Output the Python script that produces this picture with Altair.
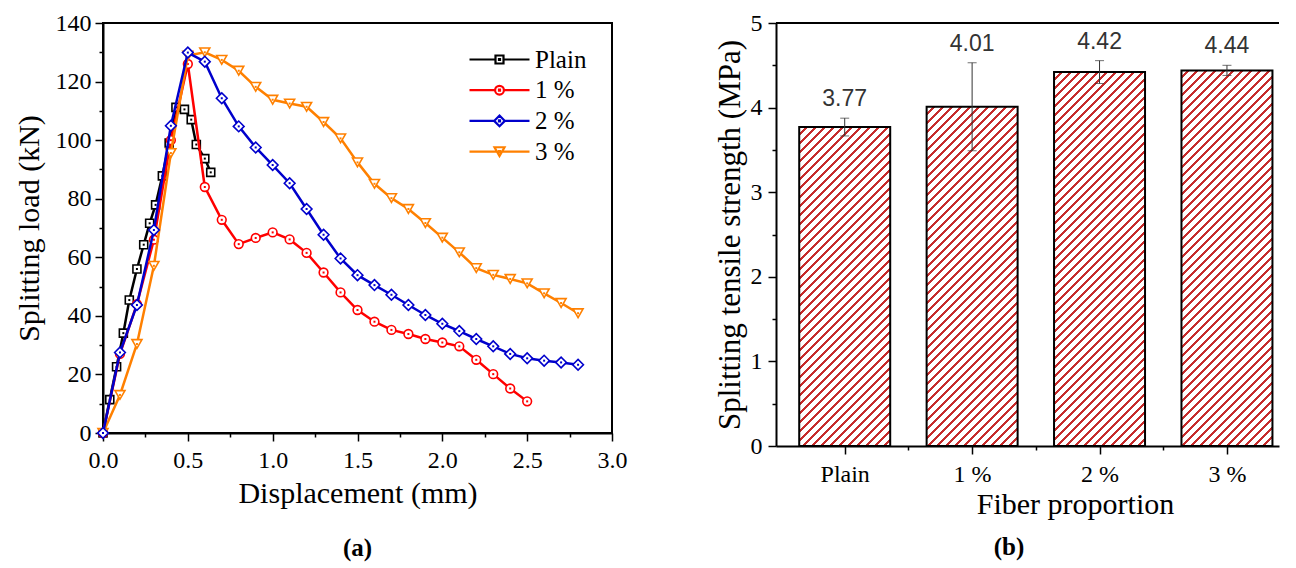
import json
import altair as alt
import pandas as pd

# ---------------- data ----------------
series = ["Plain", "1 %", "2 %", "3 %"]
series_colors = ["#000000", "#ff0000", "#0000cc", "#ff8000"]

plain_x = [0, 0.04, 0.08, 0.12, 0.155, 0.2, 0.24, 0.275, 0.31, 0.35, 0.39, 0.43, 0.48, 0.52, 0.55, 0.6, 0.635]
plain_y = [0, 11.4, 22.6, 34.1, 45.4, 56.0, 64.3, 71.6, 77.9, 87.8, 99.0, 111.2, 110.5, 107.0, 98.5, 93.7, 89.0]

p1_x = [0, 0.1, 0.2, 0.3, 0.4, 0.5, 0.6, 0.7, 0.8, 0.9, 1.0, 1.1, 1.2, 1.3, 1.4, 1.5, 1.6, 1.7, 1.8, 1.9,
        2.0, 2.1, 2.2, 2.3, 2.4, 2.5]
p1_y = [0, 27.0, 44.0, 66.0, 100.0, 126.0, 84.0, 72.8, 64.5, 66.6, 68.5, 66.1, 61.5, 54.8, 48.0, 42.0, 38.0,
        35.2, 33.8, 32.1, 30.9, 29.6, 25.0, 20.1, 15.2, 10.8]

p2_x = [0, 0.1, 0.2, 0.3, 0.4, 0.5, 0.6, 0.7, 0.8, 0.9, 1.0, 1.1, 1.2, 1.3, 1.4, 1.5, 1.6, 1.7, 1.8, 1.9,
        2.0, 2.1, 2.2, 2.3, 2.4, 2.5, 2.6, 2.7, 2.8]
p2_y = [0, 27.5, 43.7, 69.3, 104.9, 129.9, 126.8, 114.3, 104.7, 97.5, 91.5, 85.3, 76.5, 67.7, 59.6, 53.9,
        50.5, 47.2, 43.7, 40.3, 37.3, 34.8, 32.1, 29.6, 27.0, 25.5, 24.7, 24.1, 23.3]

p3_x = [0, 0.1, 0.2, 0.3, 0.4, 0.5, 0.6, 0.7, 0.8, 0.9, 1.0, 1.1, 1.2, 1.3, 1.4, 1.5, 1.6, 1.7, 1.8, 1.9,
        2.0, 2.1, 2.2, 2.3, 2.4, 2.5, 2.6, 2.7, 2.8]
p3_y = [0, 13.0, 30.4, 57.1, 95.6, 128.9, 130.0, 127.4, 123.7, 118.2, 113.8, 112.5, 111.4, 106.2, 100.6,
        92.4, 85.1, 80.2, 76.5, 71.7, 66.7, 61.7, 56.3, 54.0, 52.6, 51.1, 47.7, 44.4, 40.9]

x_ticks = [i * 0.25 for i in range(13)]
y_ticks = list(range(0, 141, 10))

categories = ["Plain", "1 %", "2 %", "3 %"]
strength = [3.77, 4.01, 4.42, 4.44]
strength_err = [0.105, 0.52, 0.135, 0.06]
strength_ticks = [i * 0.5 for i in range(11)]

# ---------------- styling ----------------
SERIF = "Liberation Serif"
W1, H1 = 509, 410
W2, H2 = 503, 423
STEP = 130.0           # px per category on the bar chart
BAR_W = 91
HATCH = "#c62b2b"

curves = {
    "Plain": (plain_x, plain_y),
    "1 %": (p1_x, p1_y),
    "2 %": (p2_x, p2_y),
    "3 %": (p3_x, p3_y),
}
markers = {
    "Plain": ("square", 64),
    "1 %": ("circle", 76),
    "2 %": ("diamond", 115),
    "3 %": ("triangle-down", 100),
}
dot = "M-0.1,-0.1H0.1V0.1H-0.1Z"
legend_paths = [
    "M-6,0H-0.8M0.8,0H6M-0.8,-0.8H0.8V0.8H-0.8Z" + dot,
    "M-6,0H-0.88M0.88,0H6M0.88,0A0.88,0.88,0,1,1,-0.88,0A0.88,0.88,0,1,1,0.88,0Z" + dot,
    "M-6,0H-1.07M1.07,0H6M0,-1.07L1.07,0L0,1.07L-1.07,0Z" + dot,
    "M-6,0H-0.5M0.5,0H6M-1,-0.87H1L0,0.87Z" + dot,
]

rows = []
for s in series:
    xs, ys = curves[s]
    for a, b in zip(xs, ys):
        rows.append({"s": s, "x": a, "y": b})
curve_df = pd.DataFrame(rows)

axis_common = dict(
    labelFont=SERIF, titleFont=SERIF, labelColor="black", titleColor="black",
    domainColor="black", domainWidth=2, tickColor="black", tickWidth=1.5,
    grid=False, titleFontWeight="normal", labelFlush=False,
)

x_axis1 = alt.Axis(
    values=x_ticks, title="Displacement (mm)", format=".1f",
    labelExpr="datum.value % 0.5 === 0 ? datum.label : ''",
    tickSize={"condition": {"test": "datum.value % 0.5 === 0", "value": 8}, "value": 4},
    labelFontSize=24, titleFontSize=30, labelPadding=7, titlePadding=6,
    **axis_common,
)
y_axis1 = alt.Axis(
    values=y_ticks, title="Splitting load (kN)", format="d",
    labelExpr="datum.value % 20 === 0 ? datum.label : ''",
    tickSize={"condition": {"test": "datum.value % 20 === 0", "value": 8}, "value": 4},
    labelFontSize=24, titleFontSize=30, labelPadding=4, titlePadding=11,
    **axis_common,
)
xs1 = alt.Scale(domain=[0, 3], nice=False, zero=False)
ys1 = alt.Scale(domain=[0, 140], nice=False)

draw_order = ["Plain", "1 %", "3 %", "2 %"]
left_layers = []
for s in draw_order:
    col = series_colors[series.index(s)]
    shp, size = markers[s]
    base = alt.Chart(curve_df).transform_filter(alt.datum.s == s)
    enc = dict(x=alt.X("x:Q", scale=xs1, axis=x_axis1), y=alt.Y("y:Q", scale=ys1, axis=y_axis1))
    left_layers.append(base.mark_line(color=col, strokeWidth=2.5).encode(**enc))
    left_layers.append(base.mark_point(shape=shp, size=size, filled=True, fill="white",
                                       stroke=col, strokeWidth=1.6, opacity=1).encode(**enc))
    left_layers.append(base.mark_point(shape="square", size=4, filled=True, color=col,
                                       opacity=1).encode(**enc))

legend_opts = dict(title=None, orient="none", legendX=384, legendY=24,
                   symbolSize=100, symbolStrokeWidth=2.2,
                   labelFont=SERIF, labelFontSize=25, labelColor="black",
                   labelOffset=23, rowPadding=4.7, padding=0)
legend_layer = alt.Chart(pd.DataFrame({"s": series})).transform_filter("false").mark_point(
    filled=False, strokeWidth=2.2, opacity=1
).encode(
    color=alt.Color("s:N", scale=alt.Scale(domain=series, range=series_colors),
                    legend=alt.Legend(**legend_opts)),
    shape=alt.Shape("s:N", scale=alt.Scale(domain=series, range=legend_paths),
                    legend=alt.Legend(**legend_opts)),
)

left = alt.layer(*left_layers, legend_layer).properties(
    width=W1, height=H1,
    title=alt.TitleParams("(a)", orient="bottom", font=SERIF, fontSize=25, fontWeight="bold",
                          color="black", offset=28, frame="group", anchor="middle"),
)

# ---------------- right: bar chart ----------------
bar_df = pd.DataFrame({
    "idx": list(range(1, len(categories) + 1)),
    "cat": categories,
    "v": strength,
    "err": strength_err,
})
bar_df["lo"] = bar_df["v"] - bar_df["err"]
bar_df["hi"] = bar_df["v"] + bar_df["err"]
bar_df["label"] = [f"{v:.2f}" for v in strength]

x_vals2 = [1, 1.5, 2, 2.5, 3, 3.5, 4]
x_axis2 = alt.Axis(
    values=x_vals2, title="Fiber proportion",
    labelExpr="datum.value % 1 === 0 ? " + json.dumps(categories) + "[datum.value - 1] : ''",
    tickSize={"condition": {"test": "datum.value % 1 === 0", "value": 8}, "value": 4},
    labelFontSize=24, titleFontSize=30, labelPadding=8, titlePadding=3,
    titleX=299, **axis_common,
)
y_axis2 = alt.Axis(
    values=strength_ticks, title="Splitting tensile strength (MPa)", format=".0f",
    labelExpr="datum.value % 1 === 0 ? datum.label : ''",
    tickSize={"condition": {"test": "datum.value % 1 === 0", "value": 8}, "value": 4},
    labelFontSize=24, titleFontSize=31, labelPadding=6, titlePadding=4,
    **axis_common,
)
xs2 = alt.Scale(domain=[0.5, 0.5 + W2 / STEP], nice=False, zero=False)
ys2 = alt.Scale(domain=[0, 5], nice=False)


def hatch(w, h, period=9.0, frac=0.32, color=HATCH):
    c = (w + h) / (w * w + h * h)
    total = w + h
    stops = []
    pos = 0.0
    while pos < total - 1e-9:
        a = pos / total
        b = min((pos + period * (1 - frac)) / total, 1.0)
        e = min((pos + period) / total, 1.0)
        stops += [{"offset": a, "color": "#ffffff"}, {"offset": b, "color": "#ffffff"},
                  {"offset": b, "color": color}, {"offset": e, "color": color}]
        pos += period
    return {"gradient": "linear", "x1": 0, "y1": 0, "x2": c * w, "y2": c * h, "stops": stops}


enc2 = dict(x=alt.X("idx:Q", scale=xs2, axis=x_axis2))
right_layers = []
for i, (cat, v) in enumerate(zip(categories, strength)):
    h = v / 5.0 * H2
    right_layers.append(
        alt.Chart(bar_df).transform_filter(alt.datum.idx == i + 1).mark_bar(
            size=BAR_W, fill=hatch(BAR_W, h), stroke="black", strokeWidth=2
        ).encode(y=alt.Y("v:Q", scale=ys2, axis=y_axis2), **enc2)
    )

err_base = alt.Chart(bar_df)
right_layers.append(err_base.mark_rule(color="#333333", strokeWidth=1).encode(
    y=alt.Y("lo:Q", scale=ys2, axis=y_axis2), y2="hi:Q", **enc2))
right_layers.append(err_base.mark_tick(orient="horizontal", size=9, thickness=1, color="#333333").encode(
    y=alt.Y("lo:Q", scale=ys2, axis=y_axis2), **enc2))
right_layers.append(err_base.mark_tick(orient="horizontal", size=9, thickness=1, color="#333333").encode(
    y=alt.Y("hi:Q", scale=ys2, axis=y_axis2), **enc2))
right_layers.append(err_base.mark_text(font="Liberation Sans", fontSize=23, color="#333333",
                                       baseline="middle", dy=-19).encode(
    y=alt.Y("hi:Q", scale=ys2, axis=y_axis2), text="label:N", **enc2))
right_layers.append(alt.Chart(bar_df).mark_rule(color="black", strokeWidth=2).encode(
    x=alt.value(0), x2=alt.value(W2), y=alt.value(0)))

right = alt.layer(*right_layers).properties(
    width=W2, height=H2,
    view=alt.ViewBackground(stroke="transparent"),
    title=alt.TitleParams("(b)", orient="bottom", font=SERIF, fontSize=25, fontWeight="bold",
                          color="black", offset=16, frame="bounds", anchor="middle", dx=12),
)

chart = alt.hconcat(left, right, spacing=85).properties(
    padding={"left": 5, "top": 2, "right": 0, "bottom": 0},
    background="white",
).configure_view(stroke="black", strokeWidth=2).configure_axis(
    labelFont=SERIF, titleFont=SERIF
).configure_title(fontWeight="bold")

chart.save("out.html", embed_options={"renderer": "svg", "actions": False})
